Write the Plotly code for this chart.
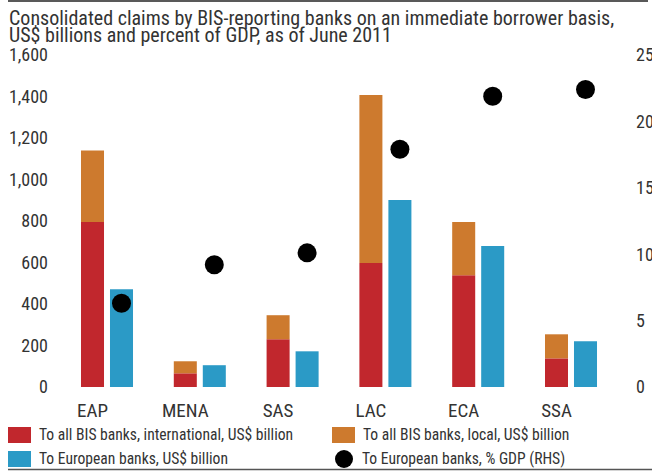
import plotly.graph_objects as go

# Regions and values (US$ billions; last series in % of GDP)
regions = ["EAP", "MENA", "SAS", "LAC", "ECA", "SSA"]
intl_all_bis = [795, 66, 230, 597, 539, 138]
local_all_bis = [345, 58, 116, 810, 256, 116]
european_banks = [471, 105, 172, 901, 679, 220]
european_pct_gdp = [6.3, 9.2, 10.1, 17.9, 21.9, 22.4]

left_ticks = [0, 200, 400, 600, 800, 1000, 1200, 1400, 1600]
right_ticks = [0, 5, 10, 15, 20, 25]

RED = "#C1272D"
ORANGE = "#CD7A2E"
BLUE = "#2B9AC6"
TEXT = "#333333"
FONT = "Roboto Condensed, Liberation Sans, sans-serif"

W, H = 652, 471
L, R, T, B = 55, 632, 55, 387  # plot area in pixels

def px(x):
    return (x - L) / (R - L)

def py(y):
    return (B - y) / (B - T)

idx = list(range(len(regions)))
bar_w = 0.248
blue_off = 0.3125
blue_x = [i + blue_off for i in idx]

fig = go.Figure()
fig.add_trace(go.Bar(x=idx, y=intl_all_bis, width=bar_w, marker_color=RED,
                     marker_line_width=0, name="To all BIS banks, international, US$ billion"))
fig.add_trace(go.Bar(x=idx, y=local_all_bis, base=intl_all_bis, width=bar_w,
                     marker_color=ORANGE, marker_line_width=0,
                     name="To all BIS banks, local, US$ billion"))
fig.add_trace(go.Bar(x=blue_x, y=european_banks, width=bar_w, marker_color=BLUE,
                     marker_line_width=0, name="To European banks, US$ billion"))
fig.add_trace(go.Scatter(x=blue_x, y=european_pct_gdp, yaxis="y2", mode="markers",
                         marker=dict(size=19, color="black"),
                         name="To European banks, % GDP (RHS)"))

fig.update_layout(
    width=W, height=H,
    margin=dict(l=L, r=W - R, t=T, b=H - B, autoexpand=False),
    paper_bgcolor="white", plot_bgcolor="white",
    barmode="overlay", showlegend=False,
    font=dict(family=FONT, color=TEXT, size=18),
    xaxis=dict(range=[(L - 92.5) / 92.8, (R - 92.5) / 92.8], tickmode="array",
               tickvals=idx, ticktext=regions, showgrid=False, zeroline=False,
               showline=False, ticks="", tickfont=dict(size=19), automargin=False,
               ticklabelstandoff=10),
    yaxis=dict(range=[0, 1600], tickmode="array", tickvals=left_ticks,
               ticktext=[f"{v:,}" for v in left_ticks], showgrid=False,
               zeroline=False, showline=False, ticks="", tickfont=dict(size=18),
               automargin=False, ticklabelstandoff=6),
    yaxis2=dict(range=[0, 25], overlaying="y", side="right", tickmode="array",
                tickvals=right_ticks, showgrid=False, zeroline=False,
                showline=False, ticks="", tickfont=dict(size=18), automargin=False,
                ticklabelstandoff=3),
)

shapes = []
annotations = []

# Title lines
for text, ytop in [("Consolidated claims by BIS-reporting banks on an immediate borrower basis,", 4),
                   ("US$ billions and percent of GDP, as of June 2011", 21)]:
    annotations.append(dict(text=text, xref="paper", yref="paper", x=px(7), y=py(ytop),
                            xanchor="left", yanchor="top", showarrow=False,
                            font=dict(size=20, color=TEXT, family=FONT)))

# Rules at top and bottom
shapes.append(dict(type="line", xref="paper", yref="paper", x0=px(8), x1=px(648),
                   y0=py(1), y1=py(1), line=dict(color="#222222", width=1.5)))
shapes.append(dict(type="line", xref="paper", yref="paper", x0=px(8), x1=px(652),
                   y0=py(469.5), y1=py(469.5), line=dict(color="#555555", width=1.5)))

# Legend
legend_items = [
    ("rect", RED, 8, 435, "To all BIS banks, international, US$ billion"),
    ("rect", ORANGE, 332, 435, "To all BIS banks, local, US$ billion"),
    ("rect", BLUE, 8, 459, "To European banks, US$ billion"),
    ("circle", "black", 335, 459, "To European banks, % GDP (RHS)"),
]
for kind, color, x0, yc, label in legend_items:
    if kind == "rect":
        shapes.append(dict(type="rect", xref="paper", yref="paper", x0=px(x0), x1=px(x0 + 23),
                           y0=py(yc - 8), y1=py(yc + 8), fillcolor=color, line_width=0))
        tx = x0 + 29
    else:
        shapes.append(dict(type="circle", xref="paper", yref="paper", x0=px(x0), x1=px(x0 + 18),
                           y0=py(yc - 9), y1=py(yc + 9), fillcolor=color, line_width=0))
        tx = x0 + 25
    annotations.append(dict(text=label, xref="paper", yref="paper", x=px(tx),
                            y=py(yc), xanchor="left", yanchor="middle", showarrow=False,
                            font=dict(size=15.6, color=TEXT, family=FONT)))

fig.update_layout(shapes=shapes, annotations=annotations)
fig.write_html("out.html")
